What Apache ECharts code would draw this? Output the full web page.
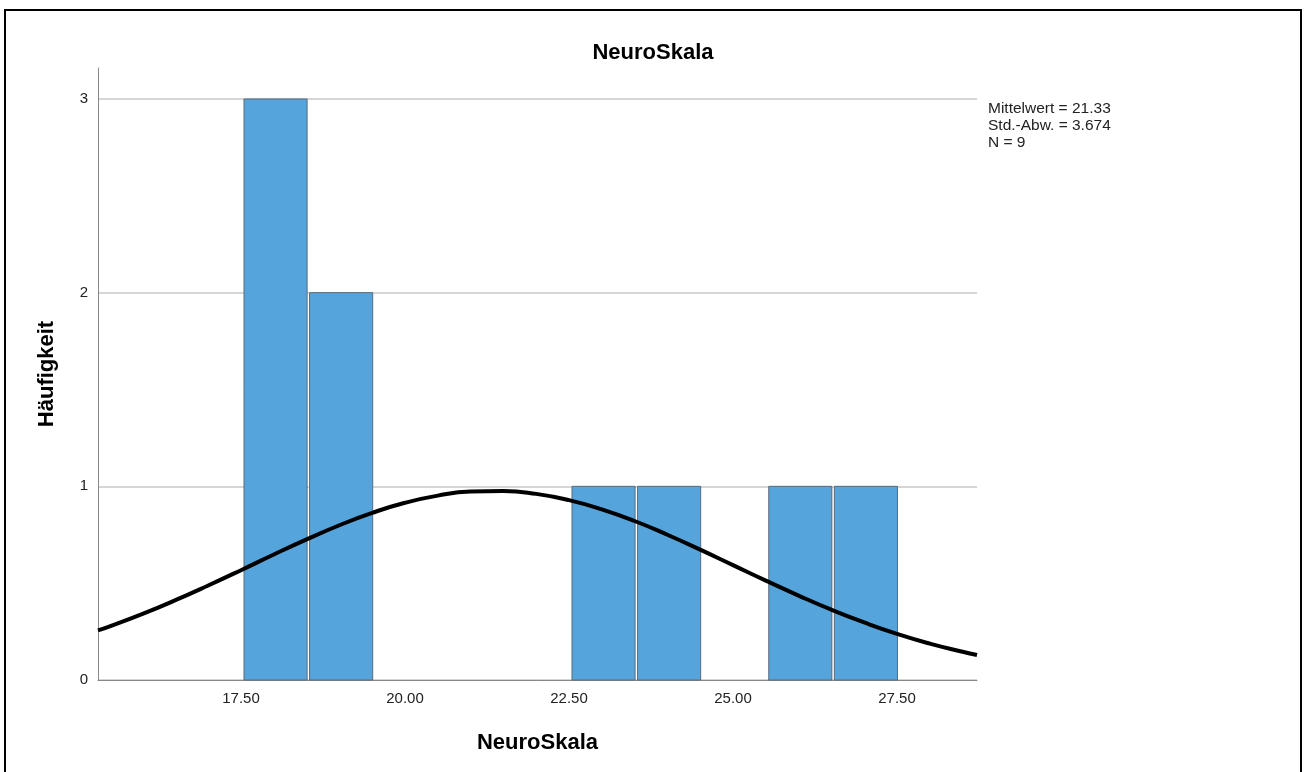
<!DOCTYPE html>
<html>
<head>
<meta charset="utf-8">
<script src="https://cdn.jsdelivr.net/npm/echarts@6/dist/echarts.min.js"></script>
<style>html,body{margin:0;padding:0;background:#fff}#c{width:1306px;height:772px}</style>
</head>
<body>
<div id="c"></div>
<script>
// Histogram bins (lower edge, upper edge) and counts
var binStarts = [17.5, 18.5, 22.5, 23.5, 25.5, 26.5];
var binEnds   = [18.5, 19.5, 23.5, 24.5, 26.5, 27.5];
var counts    = [3, 2, 1, 1, 1, 1];
// Normal curve points
var curveX = [15.32, 15.5, 16, 16.5, 17, 17.5, 18, 18.5, 19, 19.5, 20, 20.5, 21, 21.5, 22, 22.5, 23, 23.5, 24, 24.5, 25, 25.5, 26, 26.5, 27, 27.5, 28, 28.5, 28.72];
var curveY = [0.256, 0.277, 0.341, 0.412, 0.488, 0.567, 0.648, 0.726, 0.799, 0.863, 0.915, 0.952, 0.973, 0.976, 0.961, 0.929, 0.881, 0.821, 0.750, 0.673, 0.593, 0.513, 0.436, 0.363, 0.297, 0.238, 0.188, 0.146, 0.129];
var xTicks = [17.5, 20, 22.5, 25, 27.5];
var yTicks = [0, 1, 2, 3];
var statsLines = ['Mittelwert = 21.33', 'Std.-Abw. = 3.674', 'N = 9'];

var chart = echarts.init(document.getElementById('c'));
var font = 'Liberation Sans, Arial, sans-serif';
var barData = binStarts.map(function (s, i) { return [s, binEnds[i], counts[i]]; });
var lineData = curveX.map(function (x, i) { return [x, curveY[i]]; });

chart.setOption({
  animation: false,
  title: {
    text: 'NeuroSkala', left: 'center', top: 37,
    textStyle: { fontFamily: font, fontSize: 22, fontWeight: 'bold', color: '#000' }
  },
  grid: { left: 98, right: 329, top: 68, bottom: 92 },
  xAxis: {
    type: 'value', min: 15.32, max: 28.72,
    name: 'NeuroSkala', nameLocation: 'middle', nameGap: 52,
    nameTextStyle: { fontFamily: font, fontSize: 22, fontWeight: 'bold', color: '#000' },
    axisLine: { show: true, lineStyle: { color: '#888', width: 1 } },
    axisTick: { show: false },
    splitLine: { show: false },
    axisLabel: {
      customValues: xTicks, margin: 11,
      fontFamily: font, fontSize: 15, color: '#222',
      formatter: function (v) { return v.toFixed(2); }
    }
  },
  yAxis: {
    type: 'value', min: 0, max: 3.16,
    name: 'Häufigkeit', nameLocation: 'middle', nameGap: 40,
    nameTextStyle: { fontFamily: font, fontSize: 22, fontWeight: 'bold', color: '#000' },
    axisLine: { show: true, lineStyle: { color: '#888', width: 1 } },
    axisTick: { show: false, customValues: yTicks },
    splitLine: { show: true, lineStyle: { color: '#c8c8c8', width: 1.5 } },
    axisLabel: {
      customValues: yTicks, margin: 10,
      fontFamily: font, fontSize: 15, color: '#222'
    }
  },
  series: [
    {
      type: 'custom',
      data: barData,
      encode: { x: [0, 1], y: 2 },
      renderItem: function (params, api) {
        var p0 = api.coord([api.value(0), api.value(2)]);
        var p1 = api.coord([api.value(1), 0]);
        return {
          type: 'rect',
          shape: { x: p0[0] + 3, y: p0[1], width: p1[0] - p0[0] - 2.5, height: p1[1] - p0[1] },
          style: { fill: '#55a5dc', stroke: '#5a6a78', lineWidth: 1 }
        };
      },
      z: 2
    },
    {
      type: 'line', data: lineData, smooth: true, showSymbol: false, symbol: 'none',
      lineStyle: { color: '#000', width: 4 }, z: 3
    }
  ],
  graphic: [
    {
      type: 'rect', shape: { x: 5, y: 10, width: 1296, height: 780 },
      style: { fill: 'none', stroke: '#000', lineWidth: 2 }, silent: true
    },
    {
      type: 'text', left: 988, top: 100,
      style: { text: statsLines.join('\n'), font: '15.5px ' + font, lineHeight: 17, fill: '#222' }
    }
  ]
});
</script>
</body>
</html>
